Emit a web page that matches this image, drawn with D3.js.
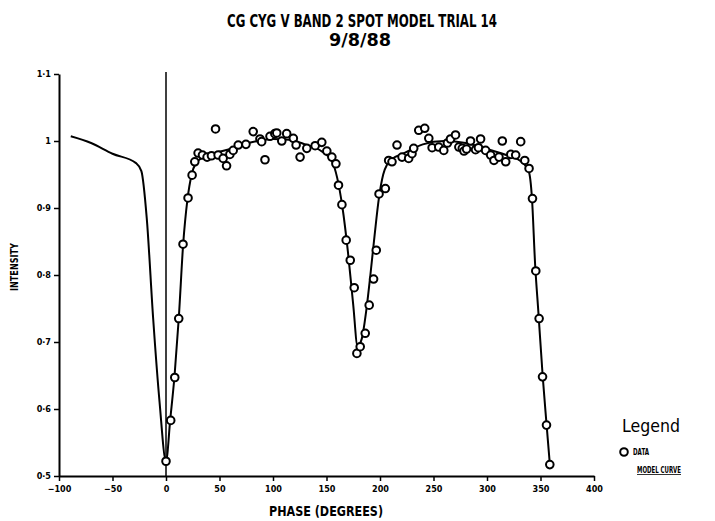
<!DOCTYPE html>
<html><head><meta charset="utf-8">
<script src="https://cdn.jsdelivr.net/npm/d3@7/dist/d3.min.js"></script>
<style>body{margin:0;background:#fff}svg{display:block}</style>
</head><body>
<script>
const titleLines = ["CG CYG V BAND 2 SPOT MODEL TRIAL 14", "9/8/88"];
const xLabel = "PHASE (DEGREES)";
const yLabel = "INTENSITY";
const xTicks = [-100, -50, 0, 50, 100, 150, 200, 250, 300, 350, 400];
const yTicks = [0.5, 0.6, 0.7, 0.8, 0.9, 1.0, 1.1];
const legendItems = ["DATA", "MODEL CURVE"];

const dataPhase = [0, 4.4, 8.2, 11.9, 15.9, 20.6, 24.4, 26.9, 30, 34.1, 38.4, 42.5, 46.3, 48.7, 53.4, 56.6, 59.7, 62.8, 67.5, 74.7, 81.5, 87.8, 89.4, 92.5, 97.2, 101.7, 103.5, 108.2, 112.8, 119.0, 121.6, 125.3, 131.6, 139.4, 145.6, 150.3, 155.0, 158.8, 161.2, 164.4, 168.4, 172.2, 175.9, 178.4, 181.5, 186.2, 189.9, 194.0, 196.5, 199.1, 205.0, 208.1, 211.2, 215.9, 220.6, 226.8, 229.9, 231.5, 236.2, 241.8, 245.6, 248.7, 254.9, 259.6, 263.0, 265.9, 270.6, 273.7, 276.9, 278.5, 280.9, 284.6, 289.3, 292.0, 294.0, 298.7, 303.4, 306.5, 311.2, 314.3, 317.5, 322.2, 326.8, 331.5, 335.3, 339.3, 342.5, 345.6, 348.7, 351.9, 355.6, 358.7];
const dataIntensity = [0.522, 0.583, 0.647, 0.735, 0.846, 0.915, 0.949, 0.969, 0.982, 0.979, 0.976, 0.978, 1.018, 0.979, 0.974, 0.963, 0.980, 0.986, 0.994, 0.995, 1.014, 1.003, 0.999, 0.972, 1.007, 1.011, 1.012, 1.000, 1.011, 1.004, 0.994, 0.976, 0.989, 0.993, 0.998, 0.985, 0.976, 0.966, 0.934, 0.905, 0.852, 0.822, 0.781, 0.683, 0.693, 0.713, 0.755, 0.794, 0.837, 0.921, 0.929, 0.971, 0.969, 0.994, 0.976, 0.974, 0.981, 0.989, 1.016, 1.019, 1.004, 0.990, 0.991, 0.986, 0.997, 1.003, 1.009, 0.991, 0.989, 0.985, 0.988, 1.000, 0.987, 0.990, 1.003, 0.986, 0.979, 0.971, 0.976, 1.000, 0.969, 0.980, 0.979, 0.999, 0.971, 0.959, 0.914, 0.806, 0.735, 0.648, 0.576, 0.517];

const modelPhase = [-89, -70, -50, -28, -23, -18, -12, -6, 0, 4, 8, 12, 16, 20, 24, 28, 35, 45, 60, 80, 100, 115, 130, 145, 155, 160, 165, 170, 175, 179, 183, 187, 191, 195, 199, 203, 207, 212, 220, 240, 260, 280, 300, 320, 333, 339, 342, 345, 348, 352, 355.5, 358.7];
const modelIntensity = [1.007, 0.997, 0.981, 0.967, 0.955, 0.885, 0.735, 0.610, 0.522, 0.585, 0.650, 0.737, 0.845, 0.912, 0.950, 0.967, 0.976, 0.982, 0.988, 0.998, 1.003, 1.002, 0.995, 0.985, 0.970, 0.945, 0.900, 0.835, 0.755, 0.694, 0.705, 0.745, 0.800, 0.860, 0.915, 0.950, 0.966, 0.974, 0.980, 0.995, 1.000, 0.997, 0.988, 0.978, 0.968, 0.955, 0.915, 0.815, 0.745, 0.650, 0.580, 0.518];

const W = 715, H = 521;
const svg = d3.select("body").append("svg").attr("width", W).attr("height", H);
const x = d3.scaleLinear().domain([-100, 400]).range([59, 594]);
const y = d3.scaleLinear().domain([0.5, 1.1]).range([476, 74]);

const font = "'Liberation Sans Narrow', 'DejaVu Sans Condensed', sans-serif";

// Title
svg.append("text").attr("x", 362).attr("y", 27).attr("text-anchor", "middle")
  .attr("font-family", font).attr("font-weight", "bold").attr("font-size", 17)
  .attr("textLength", 270).attr("lengthAdjust", "spacingAndGlyphs").text(titleLines[0]);
svg.append("text").attr("x", 360).attr("y", 46).attr("text-anchor", "middle")
  .attr("font-family", font).attr("font-weight", "bold").attr("font-size", 17)
  .attr("textLength", 62).attr("lengthAdjust", "spacingAndGlyphs").text(titleLines[1]);

// Axes
const fmtY = d => d === 1 ? "1" : d3.format(".1f")(d).replace(".", "\u00B7");
const fmtX = d => d < 0 ? "\u2212" + Math.abs(d) : String(d);

const gx = svg.append("g").attr("transform", `translate(0,${y(0.5)})`)
  .call(d3.axisBottom(x).tickValues(xTicks).tickFormat(fmtX).tickSize(5).tickSizeOuter(0));
const gy = svg.append("g").attr("transform", `translate(${x(-100)},0)`)
  .call(d3.axisLeft(y).tickValues(yTicks).tickFormat(fmtY).tickSize(5).tickSizeOuter(0));
[gx, gy].forEach(g => {
  g.select(".domain").attr("stroke", "#000").attr("stroke-width", 2);
  g.selectAll(".tick line").attr("stroke", "#000").attr("stroke-width", 1.5);
  g.selectAll(".tick text").attr("fill", "#000").attr("font-family", "'DejaVu Sans Condensed', sans-serif")
    .attr("font-weight", "bold").attr("font-size", 9);
});
gx.selectAll(".tick text").attr("dy", "0.9em");

// Axis titles
svg.append("text").attr("x", 326).attr("y", 516).attr("text-anchor", "middle")
  .attr("font-family", font).attr("font-weight", "bold").attr("font-size", 14)
  .attr("textLength", 114).attr("lengthAdjust", "spacingAndGlyphs").text(xLabel);
svg.append("text").attr("transform", "translate(18,267) rotate(-90)").attr("text-anchor", "middle")
  .attr("font-family", font).attr("font-weight", "bold").attr("font-size", 10)
  .attr("textLength", 48).attr("lengthAdjust", "spacingAndGlyphs").text(yLabel);

// Vertical line at phase 0
svg.append("line").attr("x1", x(0)).attr("x2", x(0)).attr("y1", y(1.1) - 2).attr("y2", y(0.5))
  .attr("stroke", "#000").attr("stroke-width", 1.5);

// Model curve
const model = modelPhase.map((p, i) => [p, modelIntensity[i]]);
svg.append("path").datum(model)
  .attr("d", d3.line().x(d => x(d[0])).y(d => y(d[1])).curve(d3.curveMonotoneX))
  .attr("fill", "none").attr("stroke", "#000").attr("stroke-width", 2);

// Data points
const data = dataPhase.map((p, i) => [p, dataIntensity[i]]);
svg.append("g").selectAll("circle").data(data).join("circle")
  .attr("cx", d => x(d[0])).attr("cy", d => y(d[1])).attr("r", 3.8)
  .attr("fill", "#fff").attr("stroke", "#000").attr("stroke-width", 2);

// Legend
svg.append("text").attr("x", 622).attr("y", 432).attr("font-family", "'DejaVu Sans', sans-serif")
  .attr("font-size", 17).attr("fill", "#000").attr("textLength", 58).attr("lengthAdjust", "spacingAndGlyphs").text("Legend");
svg.append("circle").attr("cx", 624).attr("cy", 452).attr("r", 3.8).attr("fill", "#fff")
  .attr("stroke", "#000").attr("stroke-width", 2);
svg.append("text").attr("x", 633).attr("y", 455).attr("font-family", font).attr("font-weight", "bold")
  .attr("font-size", 8).attr("textLength", 16).attr("lengthAdjust", "spacingAndGlyphs").text(legendItems[0]);
svg.append("text").attr("x", 637).attr("y", 473).attr("font-family", font).attr("font-weight", "bold")
  .attr("font-size", 8).attr("textLength", 44).attr("lengthAdjust", "spacingAndGlyphs")
  .attr("text-decoration", "underline").text(legendItems[1]);
</script>
</body></html>
